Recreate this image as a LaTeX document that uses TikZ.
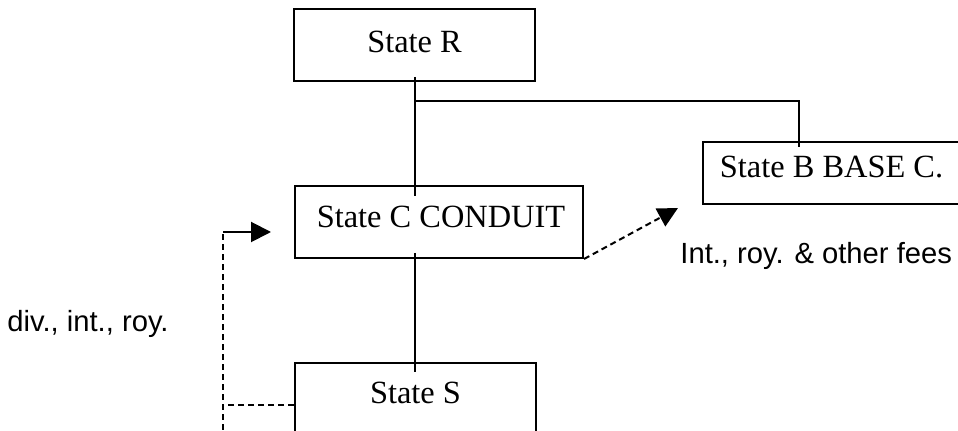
\documentclass[tikz,border=0pt]{standalone}
\usepackage{fontspec}
\setmainfont{Liberation Serif}
\newfontfamily\labfont{Liberation Sans}
\usetikzlibrary{arrows.meta,calc}
\begin{document}
\begin{tikzpicture}[x=0.5pt,y=-0.5pt,
  box/.style={draw,line width=1pt,inner sep=0pt},
  statetxt/.style={inner sep=0pt,font=\fontsize{16.2}{18}\selectfont},
  lab/.style={inner sep=0pt,anchor=base west,font=\labfont\fontsize{14.6}{16}\selectfont},
  conn/.style={line width=1pt},
  dsh/.style={line width=1pt,dash pattern=on 3pt off 2pt},
  tip/.style={-{Triangle[length=10pt,width=10pt]}}]
\useasboundingbox (0,0) rectangle (958,431);
\clip (0,0) rectangle (958,431);

\node[box,minimum width=120.5pt,minimum height=36pt] (R) at (414.5,45) {};
\node[statetxt] (Rt) at (414.5,42) {State R};
\node[box,minimum width=144pt,minimum height=36pt] (C) at (439,222) {};
\node[statetxt] (Ct) at (441,217) {State C CONDUIT};
\node[box,minimum width=131.5pt,minimum height=31pt] (B) at (834.5,173) {};
\node[statetxt] (Bt) at (831.5,167) {State B BASE C.};
\node[box,minimum width=120.5pt,minimum height=41pt] (S) at (415.5,404) {};
\node[statetxt] (St) at (415.5,393) {State S};

\node[lab] (fees) at (680,264) {Int., roy. \& other fees};
\node[lab] (div) at (7,332) {div., int., roy.};

\coordinate (fe) at (678,208);
\coordinate (l0) at (223,440);
\coordinate (la) at (271,232);

\draw[conn] ($(R.south)+(0.5,-5)$) -- ($(R.south)+(0.5,114)$);
\draw[conn] ($(R.south)+(0.5,19)$) -| ($(B.north)+(-35.5,6)$);
\draw[conn] ($(C.south)+(-24,-6)$) -- ($(S.north)+(-0.5,10)$);
\draw[dsh,tip] (C.south east) -- (fe);
\draw[dsh] ($(S.west)+(0,1)$) -- ($(S.west -| l0)+(0,1)$);
\draw[dsh] (l0) -- (l0 |- la);
\draw[conn,tip] (l0 |- la) -- (la);
\end{tikzpicture}
\end{document}
